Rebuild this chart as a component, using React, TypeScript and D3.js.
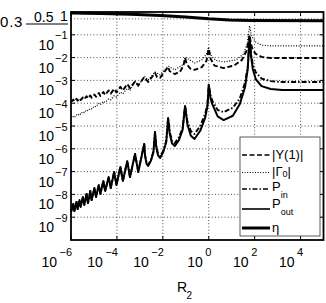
import React, { useEffect } from 'react';
import * as d3 from 'd3';

const W = 326;
const H = 303;
const PL = 71, PR = 323.5, PT = 12, PB = 240;
const FONT = '"Liberation Sans", Arial, Helvetica, sans-serif';

const xDomain: [number, number] = [1e-6, 1e5];
const yDomain: [number, number] = [1e-10, 1];
const xTickExps = [-6, -4, -2, 0, 2, 4];
const xGridExps = [-4, -2, 0, 2, 4];
const yTickExps = [-9, -8, -7, -6, -5, -4, -3, -2, -1];
const yGridValues = [1e-9, 1e-8, 1e-7, 1e-6, 1e-5, 1e-4, 1e-3, 1e-2, 1e-1, 0.5];

// series values as [log10(R2), log10(value)]
const yAbs: [number, number][] = [
  [-6.00,-3.95],[-5.90,-3.84],[-5.85,-3.92],[-5.76,-3.81],[-5.71,-3.89],[-5.63,-3.78],[-5.58,-3.86],
  [-5.48,-3.75],[-5.42,-3.82],[-5.32,-3.69],[-5.26,-3.79],[-5.16,-3.66],[-5.10,-3.76],[-4.98,-3.62],
  [-4.91,-3.72],[-4.79,-3.55],[-4.72,-3.68],[-4.59,-3.51],[-4.51,-3.64],[-4.36,-3.44],[-4.27,-3.58],
  [-4.12,-3.37],[-4.02,-3.53],[-3.85,-3.28],[-3.74,-3.44],[-3.55,-3.16],[-3.43,-3.34],[-3.21,-3.05],
  [-3.07,-3.22],[-2.81,-2.86],[-2.64,-3.07],[-2.34,-2.68],[-2.25,-2.85],[-2.12,-2.89],[-1.77,-2.41],
  [-1.70,-2.60],[-1.48,-2.72],[-1.25,-2.62],[-1.10,-2.35],[-1.03,-2.02],[-0.95,-2.30],[-0.80,-2.48],
  [-0.62,-2.54],[-0.30,-2.42],[-0.10,-2.15],[0.00,-1.62],[0.08,-2.05],[0.25,-2.35],[0.65,-2.46],
  [1.10,-2.35],[1.45,-2.10],[1.65,-1.70],[1.78,-1.01],[1.84,-1.40],[1.92,-1.67],[2.05,-1.84],
  [2.30,-1.97],[2.70,-2.02],[5.00,-2.02]
];

const gamma0: [number, number][] = [
  [-6.00,-4.69],[-5.90,-4.58],[-5.85,-4.62],[-5.76,-4.51],[-5.71,-4.55],[-5.63,-4.45],[-5.58,-4.49],
  [-5.48,-4.37],[-5.42,-4.41],[-5.32,-4.29],[-5.26,-4.33],[-5.16,-4.22],[-5.10,-4.25],[-4.98,-4.13],
  [-4.91,-4.16],[-4.79,-4.01],[-4.72,-4.07],[-4.59,-3.92],[-4.51,-3.96],[-4.36,-3.81],[-4.27,-3.85],
  [-4.12,-3.67],[-4.02,-3.73],[-3.85,-3.51],[-3.74,-3.59],[-3.55,-3.35],[-3.43,-3.44],[-3.21,-3.03],
  [-3.07,-3.25],[-2.81,-2.81],[-2.64,-2.98],[-2.34,-2.63],[-2.12,-2.76],[-1.77,-2.37],[-1.48,-2.54],
  [-1.10,-2.30],[-1.03,-1.97],[-0.62,-2.24],[-0.30,-2.10],[-0.10,-1.85],[0.00,-1.54],[0.10,-1.90],
  [0.30,-2.12],[0.65,-2.19],[1.20,-2.10],[1.50,-1.85],[1.68,-1.40],[1.78,-0.61],[1.84,-0.92],
  [1.92,-1.14],[2.05,-1.32],[2.30,-1.45],[2.70,-1.49],[5.00,-1.49]
];

const pIn: [number, number][] = [
  [-6.00,-8.77],[-5.90,-8.42],[-5.85,-8.73],[-5.76,-8.33],[-5.71,-8.64],[-5.63,-8.25],[-5.58,-8.55],
  [-5.48,-8.11],[-5.42,-8.46],[-5.32,-7.98],[-5.26,-8.38],[-5.16,-7.85],[-5.10,-8.25],[-4.98,-7.72],
  [-4.91,-8.11],[-4.79,-7.59],[-4.72,-7.98],[-4.59,-7.41],[-4.51,-7.85],[-4.36,-7.24],[-4.27,-7.72],
  [-4.12,-7.02],[-4.02,-7.59],[-3.85,-6.80],[-3.74,-7.41],[-3.55,-6.54],[-3.43,-7.24],[-3.21,-6.23],
  [-3.07,-7.00],[-2.81,-5.79],[-2.77,-6.30],[-2.71,-6.60],[-2.64,-6.70],[-2.52,-6.50],[-2.41,-6.12],
  [-2.34,-5.26],[-2.29,-5.85],[-2.21,-6.22],[-2.12,-6.33],[-1.98,-6.08],[-1.85,-5.65],
  [-1.77,-4.65],[-1.70,-5.25],[-1.60,-5.65],[-1.48,-5.75],[-1.30,-5.50],[-1.14,-5.10],
  [-1.03,-4.12],[-0.93,-4.80],[-0.78,-5.22],[-0.62,-5.35],[-0.37,-5.00],[-0.15,-4.45],[-0.05,-4.00],
  [0.00,-3.20],[0.08,-3.65],[0.16,-3.90],[0.39,-4.30],[0.65,-4.39],[1.05,-4.20],[1.35,-3.80],
  [1.58,-3.10],[1.70,-2.40],[1.78,-1.10],[1.84,-1.80],[1.92,-2.30],[2.05,-2.65],[2.30,-2.92],
  [2.70,-3.03],[3.20,-3.07],[5.00,-3.07]
];

const pOut: [number, number][] = [
  [-6.00,-8.77],[-5.90,-8.42],[-5.85,-8.73],[-5.76,-8.33],[-5.71,-8.64],[-5.63,-8.25],[-5.58,-8.55],
  [-5.48,-8.11],[-5.42,-8.46],[-5.32,-7.98],[-5.26,-8.38],[-5.16,-7.85],[-5.10,-8.25],[-4.98,-7.72],
  [-4.91,-8.11],[-4.79,-7.59],[-4.72,-7.98],[-4.59,-7.41],[-4.51,-7.85],[-4.36,-7.24],[-4.27,-7.72],
  [-4.12,-7.02],[-4.02,-7.59],[-3.85,-6.80],[-3.74,-7.41],[-3.55,-6.54],[-3.43,-7.24],[-3.21,-6.23],
  [-3.07,-7.02],[-2.81,-5.79],[-2.77,-6.32],[-2.71,-6.65],[-2.64,-6.75],[-2.52,-6.53],[-2.41,-6.15],
  [-2.34,-5.26],[-2.29,-5.89],[-2.21,-6.29],[-2.12,-6.40],[-1.98,-6.14],[-1.85,-5.70],
  [-1.77,-4.65],[-1.70,-5.33],[-1.60,-5.76],[-1.48,-5.88],[-1.30,-5.62],[-1.14,-5.18],
  [-1.03,-4.12],[-0.93,-4.92],[-0.78,-5.43],[-0.62,-5.57],[-0.37,-5.21],[-0.15,-4.62],[-0.05,-4.10],
  [0.00,-3.20],[0.08,-3.80],[0.16,-4.05],[0.39,-4.58],[0.65,-4.74],[1.05,-4.55],[1.35,-4.05],
  [1.58,-3.30],[1.70,-2.50],[1.78,-1.10],[1.84,-1.90],[1.92,-2.50],[2.05,-2.95],[2.30,-3.25],
  [2.70,-3.38],[3.20,-3.42],[5.00,-3.42]
];

const eta: [number, number][] = [
  [-6.0,-0.04],[-4.7,-0.065],[-3.4,-0.10],[-2.1,-0.15],[-1.0,-0.22],[0.0,-0.30],[0.9,-0.35],
  [1.8,-0.37],[5.0,-0.38]
];

const legendItems = [
  { key: 'y', dash: '5,2.5', width: 1.6, label: '|Y(1)|', sub: '', tail: '' },
  { key: 'g', dash: '1,1.6', width: 1.2, label: '|Γ', sub: '0', tail: '|' },
  { key: 'pin', dash: '5,2,1.5,2', width: 1.6, label: 'P', sub: 'in', tail: '' },
  { key: 'pout', dash: '', width: 1.6, label: 'P', sub: 'out', tail: '' },
  { key: 'eta', dash: '', width: 3, label: 'η', sub: '', tail: '' },
];
const legendLineY = [155, 172.5, 189, 209, 228];
const legendTextY = [159, 175.5, 190.5, 207.5, 232];

export default function App() {
  useEffect(() => {
    document.body.style.margin = '0';
  }, []);

  const x = d3.scaleLog().domain(xDomain).range([PL, PR]);
  const y = d3.scaleLog().domain(yDomain).range([PB, PT]);
  const line = d3
    .line<[number, number]>()
    .x((d) => x(Math.pow(10, d[0])))
    .y((d) => y(Math.pow(10, d[1])));

  const grid = { stroke: '#222', strokeWidth: 0.8, strokeDasharray: '1,2.2' };

  return (
    <svg
      width={W}
      height={H}
      style={{ position: 'fixed', left: 0, top: 0, background: '#fff' }}
      fontFamily={FONT}
    >
      <rect x={0} y={0} width={W} height={H} fill="#fff" />
      {xGridExps.map((e) => (
        <line key={'xg' + e} x1={x(Math.pow(10, e))} x2={x(Math.pow(10, e))} y1={PT} y2={PB} {...grid} />
      ))}
      {yGridValues.map((v) => (
        <line key={'yg' + v} x1={PL} x2={PR} y1={y(v)} y2={y(v)} {...grid} />
      ))}

      <g fill="none" stroke="#000" strokeLinejoin="round">
        <path d={line(pOut) || ''} strokeWidth={2} />
        <path d={line(pIn) || ''} strokeWidth={1.9} strokeDasharray="5,2,1.5,2" />
        <path d={line(gamma0) || ''} strokeWidth={1.2} strokeDasharray="1,1.6" />
        <path d={line(yAbs) || ''} strokeWidth={1.9} strokeDasharray="5,2.5" />
        <path d={line(eta) || ''} strokeWidth={3} />
      </g>

      {xTickExps.map((e) => {
        const px = x(Math.pow(10, e));
        return (
          <g key={'xt' + e}>
            <line x1={px} x2={px} y1={PB} y2={PB - 4} stroke="#000" strokeWidth={1} />
            <line x1={px} x2={px} y1={PT} y2={PT + 4} stroke="#000" strokeWidth={1} />
          </g>
        );
      })}
      {yTickExps.map((e) => {
        const py = y(Math.pow(10, e));
        return (
          <g key={'yt' + e}>
            <line x1={PL} x2={PL + 4} y1={py} y2={py} stroke="#000" strokeWidth={1} />
            <line x1={PR} x2={PR - 4} y1={py} y2={py} stroke="#000" strokeWidth={1} />
          </g>
        );
      })}

      <rect x={PL} y={PT} width={PR - PL} height={PB - PT} fill="none" stroke="#000" strokeWidth={1.8} />

      {yTickExps.map((e) => {
        const py = y(Math.pow(10, e));
        return (
          <g key={'yl' + e}>
            <text x={54} y={py + 15} textAnchor="end" fontSize={14}>10</text>
            <text x={55} y={py + 4.5} fontSize={11}>{'\u2212' + Math.abs(e)}</text>
          </g>
        );
      })}
      <text x={0} y={27} fontSize={15} letterSpacing={0.8}>0.3</text>
      <text x={34} y={21.5} fontSize={14}>0.5</text>
      <text x={60} y={21} fontSize={14}>1</text>
      <line x1={26} x2={68} y1={24} y2={24} stroke="#000" strokeWidth={1} />

      {xTickExps.map((e) => {
        const px = x(Math.pow(10, e));
        const end = e < 0 ? px - 14 : px - 6;
        return (
          <g key={'xl' + e}>
            <text x={end} y={267} textAnchor="end" fontSize={14}>10</text>
            <text x={end + 2.5} y={255.5} fontSize={11}>{e < 0 ? '\u2212' + Math.abs(e) : String(e)}</text>
          </g>
        );
      })}
      <text x={177} y={292} fontSize={14}>R</text>
      <text x={186.5} y={299} fontSize={10}>2</text>

      <rect x={240} y={137} width={80} height={99} fill="#fff" stroke="#333" strokeWidth={0.8} />
      {legendItems.map((it, i) => (
        <g key={it.key}>
          <line
            x1={242}
            x2={270}
            y1={legendLineY[i]}
            y2={legendLineY[i]}
            stroke="#000"
            strokeWidth={it.width}
            strokeDasharray={it.dash || undefined}
          />
          <text x={272} y={legendTextY[i]} fontSize={13}>
            {it.label}
            {it.sub ? (
              <tspan fontSize={9} dy={it.key === 'g' ? 1.5 : 7.5}>{it.sub}</tspan>
            ) : null}
            {it.tail ? <tspan fontSize={13} dy={-1.5}>{it.tail}</tspan> : null}
          </text>
        </g>
      ))}
    </svg>
  );
}
